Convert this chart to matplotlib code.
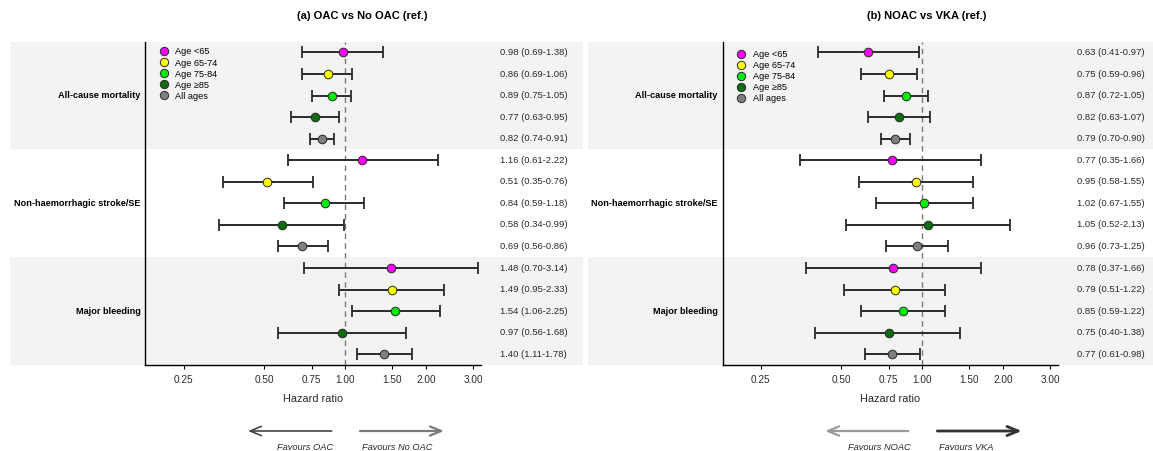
import numpy as np
import matplotlib
matplotlib.use("Agg")
import matplotlib.pyplot as plt
from matplotlib.patches import Rectangle, FancyArrowPatch
from matplotlib.lines import Line2D
import matplotlib.transforms as mtransforms

plt.rcParams['font.family'] = ['Liberation Sans', 'DejaVu Sans']

outcomes = ["All-cause mortality", "Non-haemorrhagic stroke/SE", "Major bleeding"]
age_groups = ["Age <65", "Age 65-74", "Age 75-84", "Age \u226585", "All ages"]
age_colors = ["#FF00FF", "#FFFF00", "#00EE00", "#0B6E0B", "#808080"]

# (a) OAC vs No OAC
hr_a = [0.98, 0.86, 0.89, 0.77, 0.82,
        1.16, 0.51, 0.84, 0.58, 0.69,
        1.48, 1.49, 1.54, 0.97, 1.40]
lo_a = [0.69, 0.69, 0.75, 0.63, 0.74,
        0.61, 0.35, 0.59, 0.34, 0.56,
        0.70, 0.95, 1.06, 0.56, 1.11]
hi_a = [1.38, 1.06, 1.05, 0.95, 0.91,
        2.22, 0.76, 1.18, 0.99, 0.86,
        3.14, 2.33, 2.25, 1.68, 1.78]

# (b) NOAC vs VKA
hr_b = [0.63, 0.75, 0.87, 0.82, 0.79,
        0.77, 0.95, 1.02, 1.05, 0.96,
        0.78, 0.79, 0.85, 0.75, 0.77]
lo_b = [0.41, 0.59, 0.72, 0.63, 0.70,
        0.35, 0.58, 0.67, 0.52, 0.73,
        0.37, 0.51, 0.59, 0.40, 0.61]
hi_b = [0.97, 0.96, 1.05, 1.07, 0.90,
        1.66, 1.55, 1.55, 2.13, 1.25,
        1.66, 1.22, 1.22, 1.38, 0.98]

xticks = [0.25, 0.5, 0.75, 1.0, 1.5, 2.0, 3.0]
xticklabels = ["0.25", "0.50", "0.75", "1.00", "1.50", "2.00", "3.00"]

W, H = 1153, 451
fig = plt.figure(figsize=(W / 100, H / 100), dpi=100)


def fx(x):
    return x / W


def fy(y):
    return 1 - y / H


def panel(rect, hr, lo, hi, title, title_x, band_x, legend_y, favs, arrows):
    x0, y0, x1, y1 = rect
    ax = fig.add_axes([fx(x0), fy(y1), (x1 - x0) / W, (y1 - y0) / H])
    n = len(hr)
    y = np.arange(n)
    ax.set_xscale("log")
    ax.set_xlim(0.18, 3.21)
    ax.set_ylim(n - 0.5, -0.5)
    blend = mtransforms.blended_transform_factory(ax.transAxes, ax.transData)

    # grey bands behind first and last outcome
    trans = mtransforms.blended_transform_factory(fig.transFigure, ax.transData)
    for g in range(3):
        if g % 2 == 0:
            fig.add_artist(Rectangle((fx(band_x[0]), g * 5 - 0.5), (band_x[1] - band_x[0]) / W, 5,
                                     transform=trans, facecolor="#F3F3F3", edgecolor="none",
                                     clip_on=False, zorder=0))

    ax.axvline(1.0, color="#7a7a7a", ls=(0, (4, 3)), lw=1.0, zorder=1)
    for i in range(n):
        ax.errorbar(hr[i], y[i], xerr=[[hr[i] - lo[i]], [hi[i] - hr[i]]], fmt="none",
                    ecolor="#2a2a2a", elinewidth=1.4, capsize=4.5, capthick=1.3, zorder=2)
        ax.plot(hr[i], y[i], "o", ms=6.2, mfc=age_colors[i % 5], mec="#2a2a2a", mew=0.7, zorder=3)
        ax.text(1.057, y[i], f"{hr[i]:.2f} ({lo[i]:.2f}-{hi[i]:.2f})", transform=blend,
                fontsize=6.8, va="center", ha="left", color="#2a2a2a")

    for g, name in enumerate(outcomes):
        ax.text(-0.014, g * 5 + 2, name, transform=blend,
                fontsize=6.6, fontweight="bold", ha="right", va="center")

    ax.set_facecolor("none")
    ax.spines[["top", "right"]].set_visible(False)
    ax.spines["left"].set_linewidth(1.0)
    ax.spines["bottom"].set_linewidth(1.0)
    ax.set_yticks([])
    ax.set_xticks(xticks)
    ax.set_xticklabels(xticklabels, fontsize=7.2, color="#2a2a2a")
    ax.xaxis.set_minor_locator(matplotlib.ticker.NullLocator())
    ax.tick_params(axis="x", length=3, width=0.8, pad=4.5)
    ax.set_xlabel("Hazard ratio", fontsize=7.9, labelpad=6.5, color="#2a2a2a")

    handles = [Line2D([], [], marker="o", ls="none", ms=6, mfc=c, mec="#2a2a2a", mew=0.7)
               for c in age_colors]
    ax.legend(handles, age_groups, loc="upper left",
              bbox_to_anchor=(fx(x0 + 14), fy(legend_y)), bbox_transform=fig.transFigure,
              frameon=False, fontsize=6.6, labelspacing=0.22, handletextpad=0.75,
              handlelength=1.0, borderaxespad=0, borderpad=0)

    fig.text(fx(title_x), fy(16), title, fontsize=8.0, fontweight="bold",
             ha="center", va="center")

    for (xa, xb, col, lw) in arrows:
        fig.add_artist(FancyArrowPatch((fx(xa), fy(431)), (fx(xb), fy(431)),
                                       transform=fig.transFigure,
                                       arrowstyle="->,head_length=8,head_width=3.3",
                                       color=col, lw=lw, shrinkA=0, shrinkB=0))
    for label, xc in favs:
        fig.text(fx(xc), fy(447), label, fontsize=6.7, style="italic",
                 ha="center", va="center", color="#2a2a2a")
    return ax


panel((145.4, 41.7, 481, 365), hr_a, lo_a, hi_a, "(a) OAC vs No OAC (ref.)", 362, (10, 583), 47.5,
      [("Favours OAC", 305), ("Favours No OAC", 397.5)],
      [(331.7, 248, "#444444", 1.2), (360, 444, "#7a7a7a", 1.6)])
panel((722.5, 41.7, 1058, 365), hr_b, lo_b, hi_b, "(b) NOAC vs VKA (ref.)", 927, (588, 1153), 50,
      [("Favours NOAC", 879), ("Favours VKA", 966)],
      [(908.3, 825, "#9a9a9a", 1.6), (937.3, 1021.7, "#333333", 2.0)])

fig.savefig("out.png", dpi=100)
